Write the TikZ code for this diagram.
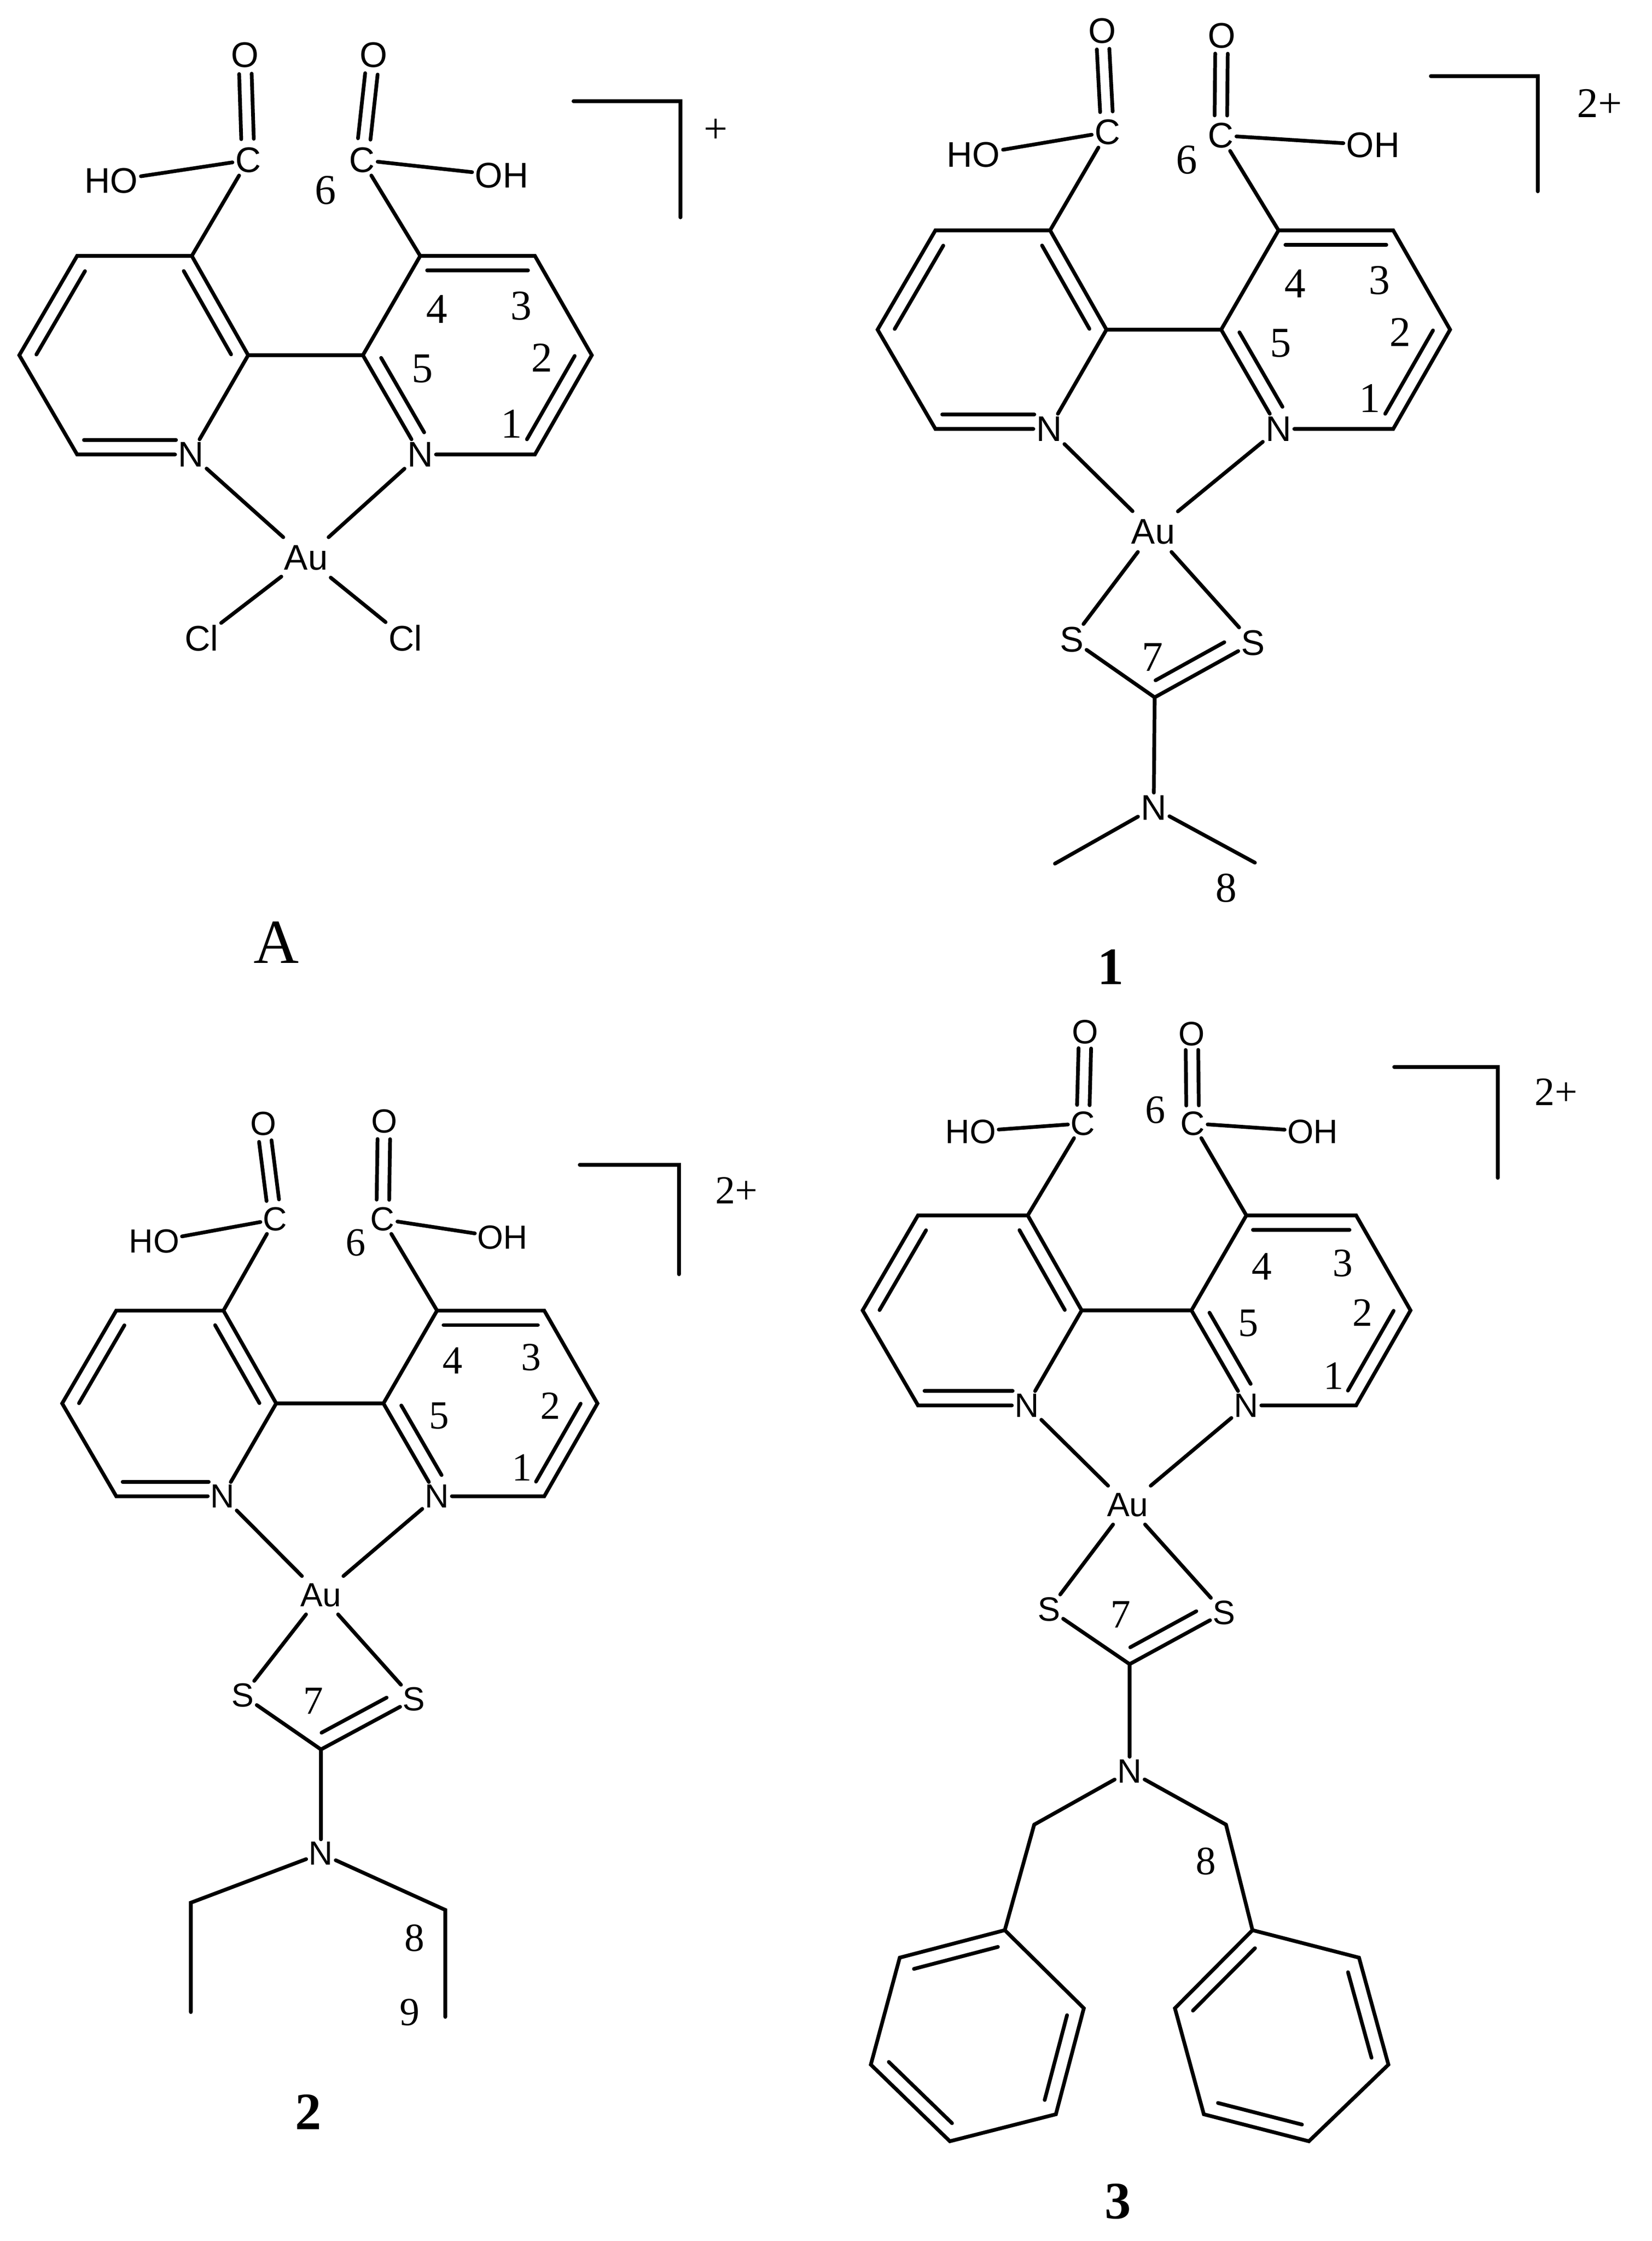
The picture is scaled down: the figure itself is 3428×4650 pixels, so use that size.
\documentclass[tikz,border=0pt]{standalone}
\usepackage{fontspec}
\usepackage{tikz}
\usetikzlibrary{calc}
\setmainfont{Liberation Serif}
\newfontfamily\atomfont{Liberation Sans}
\tikzstyle{bond}=[line width=2.2pt, line cap=round, line join=miter]
\tikzstyle{atom}=[font=\atomfont\fontsize{21}{24}\selectfont, inner sep=1.5pt]
\tikzstyle{metal}=[atom, inner ysep=4.5pt]
\tikzstyle{numlabel}=[font=\fontsize{25}{28}\selectfont, inner sep=0pt]
\tikzstyle{charge}=[font=\fontsize{25}{28}\selectfont, inner sep=0pt]
\tikzstyle{boldname}=[font=\bfseries\fontsize{31}{34}\selectfont, inner sep=0pt]
\tikzstyle{plainname}=[font=\fontsize{37}{40}\selectfont, inner sep=0pt]
\newcommand{\dbl}[4]{\draw[bond] ($(#1)!#3!(#2)!.3cm!90:(#2)$) -- ($(#1)!#4!(#2)!.3cm!90:(#2)$);}
\newcommand{\dco}[2]{%
	\draw[bond] ($(#1.center)!.2!(#2.center)!.13cm!90:(#2.center)$) -- ($(#1.center)!.82!(#2.center)!.13cm!90:(#2.center)$);
	\draw[bond] ($(#1.center)!.2!(#2.center)!.13cm!-90:(#2.center)$) -- ($(#1.center)!.82!(#2.center)!.13cm!-90:(#2.center)$);}
\newcommand{\bipy}[4]{%
	\begin{scope}[shift={(#2,#3)},scale=#4]
		\coordinate (#1a1) at (120,-206);
		\coordinate (#1a2) at (358,-206);
		\coordinate (#1a3) at (475,0);
		\node[atom] (#1Na) at (356,206) {N};
		\coordinate (#1a5) at (120,206);
		\coordinate (#1a6) at (0,0);
		\coordinate (#1b1) at (713,0);
		\coordinate (#1b2) at (832,-206);
		\coordinate (#1b3) at (1070,-206);
		\coordinate (#1b4) at (1188,0);
		\coordinate (#1b5) at (1070,206);
		\node[atom] (#1Nb) at (832,206) {N};
		\node[numlabel] (#1n1) at (1021,142) {1};
		\node[numlabel] (#1n2) at (1084,5) {2};
		\node[numlabel] (#1n3) at (1041,-102) {3};
		\node[numlabel] (#1n4) at (866,-95) {4};
		\node[numlabel] (#1n5) at (836,28) {5};
	\end{scope}
	\draw[bond] (#1Na) -- (#1a3) -- (#1a2) -- (#1a1) -- (#1a6) -- (#1a5) -- (#1Na);
	\draw[bond] (#1a3) -- (#1b1);
	\draw[bond] (#1Nb) -- (#1b1) -- (#1b2) -- (#1b3) -- (#1b4) -- (#1b5) -- (#1Nb);
	\dbl{#1a1}{#1a6}{.08}{.92}
	\dbl{#1a3}{#1a2}{.08}{.92}
	\dbl{#1a5}{#1Na.center}{.06}{.87}
	\dbl{#1b3}{#1b2}{.06}{.94}
	\dbl{#1b1}{#1Nb.center}{.1}{.85}
	\dbl{#1b5}{#1b4}{.08}{.92}}
\begin{document}
\begin{tikzpicture}[x=0.01cm,y=-0.01cm]
	\useasboundingbox (0,0) rectangle (3428,4650);
	% A
	\bipy{p}{40}{737}{1}
	\node[atom] (pCa) at (515,332) {C};
	\node[atom] (pOa) at (508,114) {O};
	\node[atom] (pHO) at (231,375) {HO};
	\node[atom] (pCb) at (751,332) {C};
	\node[atom] (pOb) at (775,114) {O};
	\node[atom] (pOH) at (1041,364) {OH};
	\node[numlabel] (pn6) at (675,395) {6};
	\draw[bond] (pa2) -- (pCa) -- (pHO);
	\draw[bond] (pb2) -- (pCb) -- (pOH);
	\dco{pCa}{pOa}
	\dco{pCb}{pOb}
	\node[metal] (pAu) at (635,1157) {Au};
	\node[atom] (pCla) at (418,1324) {Cl};
	\node[atom] (pClb) at (841,1324) {Cl};
	\draw[bond] (pNa) -- (pAu) -- (pNb);
	\draw[bond] (pCla) -- (pAu) -- (pClb);
	\coordinate (pbr1) at (1190,210);
	\coordinate (pbr2) at (1412,210);
	\coordinate (pbr3) at (1412,451);
	\draw[bond] (pbr1) -- (pbr2) -- (pbr3);
	\node[charge] (pq) at (1485,272) {+};
	\node[plainname] (pname) at (573,1956) {A};
	% 1
	\bipy{q}{1821}{684}{1}
	\node[atom] (qCa) at (2298,274) {C};
	\node[atom] (qOa) at (2287,64) {O};
	\node[atom] (qHO) at (2020,321) {HO};
	\node[atom] (qCb) at (2533,281) {C};
	\node[atom] (qOb) at (2535,74) {O};
	\node[atom] (qOH) at (2849,301) {OH};
	\node[numlabel] (qn6) at (2462,332) {6};
	\draw[bond] (qa2) -- (qCa) -- (qHO);
	\draw[bond] (qb2) -- (qCb) -- (qOH);
	\dco{qCa}{qOa}
	\dco{qCb}{qOb}
	\node[metal] (qAu) at (2393,1103) {Au};
	\node[atom] (qSa) at (2224,1327) {S};
	\node[atom] (qSb) at (2600,1334) {S};
	\node[numlabel] (qn7) at (2391,1364) {7};
	\coordinate (qC) at (2396,1447);
	\node[atom] (qN) at (2394,1676) {N};
	\coordinate (qMa) at (2189,1792);
	\coordinate (qMb) at (2604,1790);
	\node[numlabel] (qn8) at (2544,1843) {8};
	\draw[bond] (qNa) -- (qAu) -- (qNb);
	\draw[bond] (qSa) -- (qAu) -- (qSb);
	\draw[bond] (qSa) -- (qC) -- (qSb);
	\dbl{qC}{qSb.center}{.08}{.78}
	\draw[bond] (qC) -- (qN);
	\draw[bond] (qMa) -- (qN) -- (qMb);
	\coordinate (qbr1) at (2969,158);
	\coordinate (qbr2) at (3191,158);
	\coordinate (qbr3) at (3191,397);
	\draw[bond] (qbr1) -- (qbr2) -- (qbr3);
	\node[charge] (qq) at (3319,214) {2+};
	\node[boldname] (qname) at (2305,2006) {1};
	% 2
	\begin{scope}[every node/.append style={scale=.94}]
		\bipy{r}{129}{2912}{.935}
		\node[atom] (rCa) at (571,2530) {C};
		\node[atom] (rOa) at (546,2332) {O};
		\node[atom] (rHO) at (320,2576) {HO};
		\node[atom] (rCb) at (794,2530) {C};
		\node[atom] (rOb) at (797,2327) {O};
		\node[atom] (rOH) at (1043,2568) {OH};
		\node[numlabel] (rn6) at (738,2579) {6};
		\draw[bond] (ra2) -- (rCa) -- (rHO);
		\draw[bond] (rb2) -- (rCb) -- (rOH);
		\dco{rCa}{rOa}
		\dco{rCb}{rOb}
		\node[metal] (rAu) at (666,3310) {Au};
		\node[atom] (rSa) at (504,3518) {S};
		\node[atom] (rSb) at (859,3526) {S};
		\node[numlabel] (rn7) at (650,3529) {7};
		\coordinate (rC) at (666,3630);
		\node[atom] (rN) at (666,3846) {N};
		\coordinate (rEa) at (396,3948);
		\coordinate (rMa) at (396,4175);
		\coordinate (rEb) at (924,3963);
		\coordinate (rMb) at (924,4185);
		\node[numlabel] (rn8) at (860,4021) {8};
		\node[numlabel] (rn9) at (850,4175) {9};
		\draw[bond] (rNa) -- (rAu) -- (rNb);
		\draw[bond] (rSa) -- (rAu) -- (rSb);
		\draw[bond] (rSa) -- (rC) -- (rSb);
		\dbl{rC}{rSb.center}{.08}{.78}
		\draw[bond] (rC) -- (rN);
		\draw[bond] (rMa) -- (rEa) -- (rN) -- (rEb) -- (rMb);
		\coordinate (rbr1) at (1203,2417);
		\coordinate (rbr2) at (1409,2417);
		\coordinate (rbr3) at (1409,2644);
		\draw[bond] (rbr1) -- (rbr2) -- (rbr3);
		\node[charge] (rq) at (1528,2470) {2+};
	\end{scope}
	\node[boldname] (rname) at (640,4382) {2};
	% 3
	\begin{scope}[every node/.append style={scale=.95}]
		\bipy{s}{1790}{2719}{.957}
		\node[atom] (sCa) at (2247,2331) {C};
		\node[atom] (sOa) at (2252,2141) {O};
		\node[atom] (sHO) at (2014,2348) {HO};
		\node[atom] (sCb) at (2475,2331) {C};
		\node[atom] (sOb) at (2473,2145) {O};
		\node[atom] (sOH) at (2724,2348) {OH};
		\node[numlabel] (sn6) at (2397,2303) {6};
		\draw[bond] (sa2) -- (sCa) -- (sHO);
		\draw[bond] (sb2) -- (sCb) -- (sOH);
		\dco{sCa}{sOa}
		\dco{sCb}{sOb}
		\node[metal] (sAu) at (2340,3123) {Au};
		\node[atom] (sSa) at (2177,3339) {S};
		\node[atom] (sSb) at (2540,3346) {S};
		\node[numlabel] (sn7) at (2325,3350) {7};
		\coordinate (sC) at (2344,3453);
		\node[atom] (sN) at (2344,3675) {N};
		\coordinate (sCHa) at (2146,3786);
		\coordinate (sCHb) at (2544,3786);
		\node[numlabel] (sn8) at (2502,3862) {8};
		\draw[bond] (sNa) -- (sAu) -- (sNb);
		\draw[bond] (sSa) -- (sAu) -- (sSb);
		\draw[bond] (sSa) -- (sC) -- (sSb);
		\dbl{sC}{sSb.center}{.08}{.78}
		\draw[bond] (sC) -- (sN);
		\draw[bond] (sCHa) -- (sN) -- (sCHb);
		\coordinate (sl1) at (2085,4005);
		\coordinate (sl2) at (2249,4167);
		\coordinate (sl3) at (2191,4387);
		\coordinate (sl4) at (1971,4443);
		\coordinate (sl5) at (1807,4284);
		\coordinate (sl6) at (1867,4062);
		\draw[bond] (sCHa) -- (sl1);
		\draw[bond] (sl1) -- (sl2) -- (sl3) -- (sl4) -- (sl5) -- (sl6) -- cycle;
		\dbl{sl1}{sl6}{.1}{.9}
		\dbl{sl5}{sl4}{.1}{.9}
		\dbl{sl3}{sl2}{.1}{.9}
		\coordinate (sr1) at (2599,4005);
		\coordinate (sr2) at (2820,4062);
		\coordinate (sr3) at (2881,4284);
		\coordinate (sr4) at (2716,4443);
		\coordinate (sr5) at (2498,4387);
		\coordinate (sr6) at (2438,4167);
		\draw[bond] (sCHb) -- (sr1);
		\draw[bond] (sr1) -- (sr2) -- (sr3) -- (sr4) -- (sr5) -- (sr6) -- cycle;
		\dbl{sr1}{sr6}{.1}{.9}
		\dbl{sr5}{sr4}{.1}{.9}
		\dbl{sr3}{sr2}{.1}{.9}
		\coordinate (sbr1) at (2893,2214);
		\coordinate (sbr2) at (3108,2214);
		\coordinate (sbr3) at (3108,2444);
		\draw[bond] (sbr1) -- (sbr2) -- (sbr3);
		\node[charge] (sq) at (3229,2266) {2+};
	\end{scope}
	\node[boldname] (sname) at (2320,4568) {3};
\end{tikzpicture}
\end{document}
